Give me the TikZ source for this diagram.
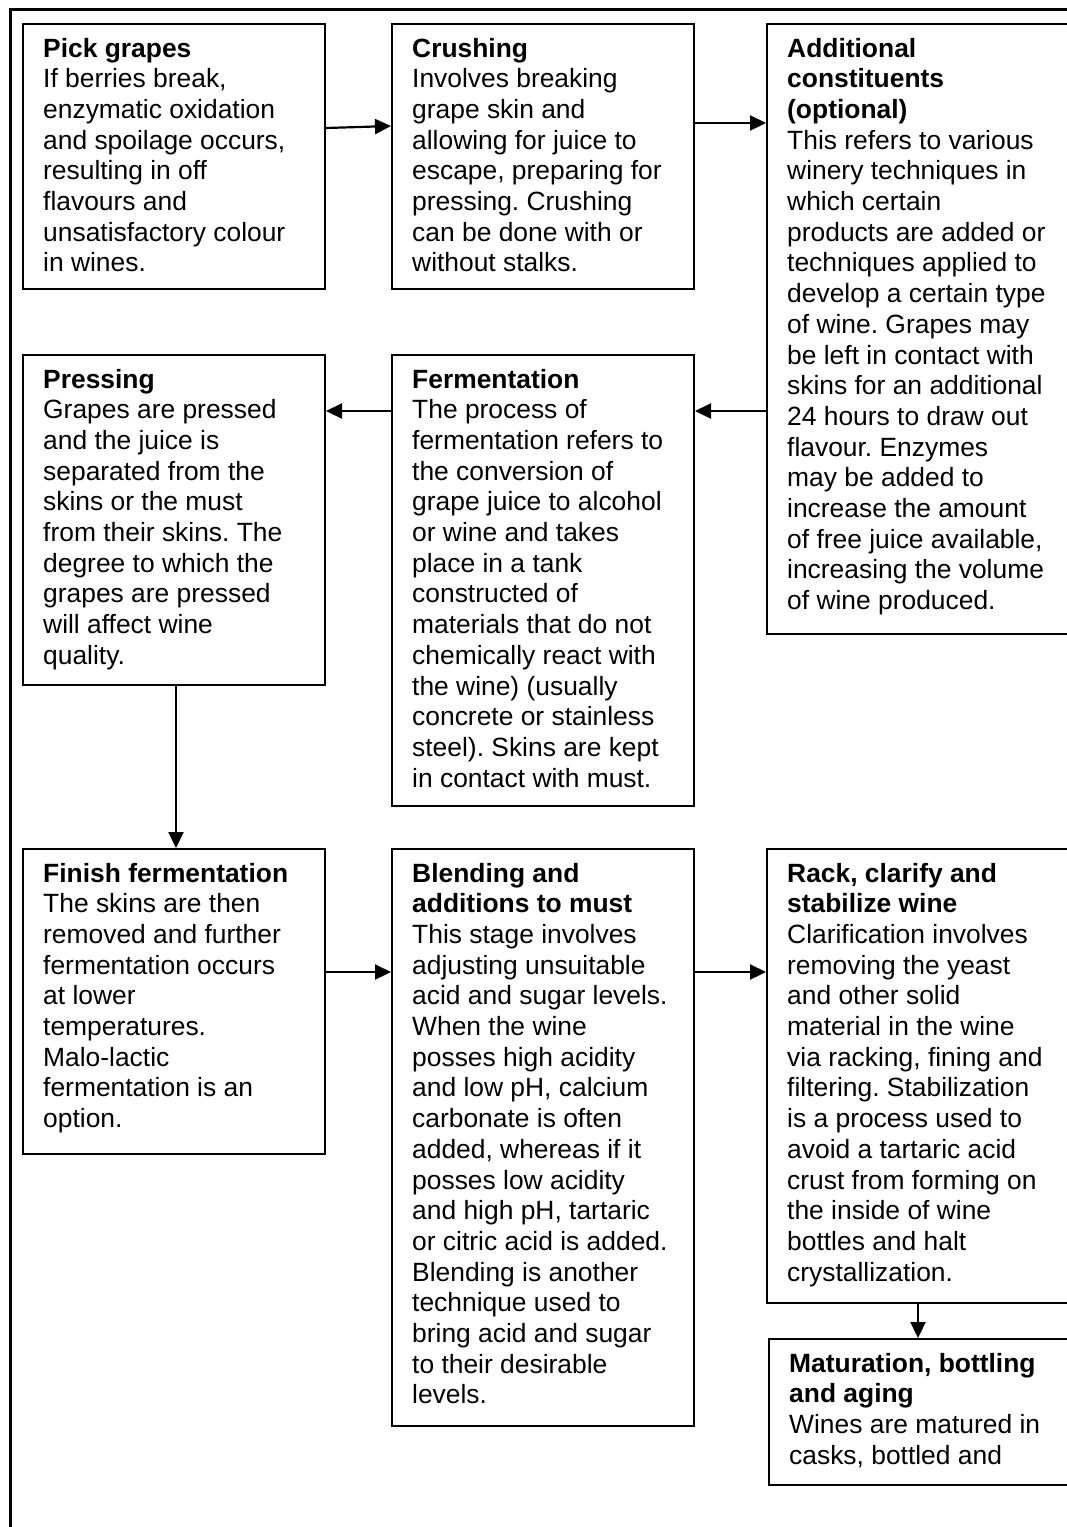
\documentclass[tikz,border=0pt]{standalone}
\usepackage{fontspec}
\setmainfont{Liberation Sans}
\usetikzlibrary{arrows.meta}
% body text of a stage: bold heading, then the description, lines broken by hand
\newcommand{\stagetxt}[2]{\parbox[t]{300pt}{\fontsize{26.4}{30.7}\selectfont\frenchspacing\raggedright{\bfseries #1}\\#2}}
\begin{document}
\begin{tikzpicture}[x=1pt,y=-1pt,
  stagebox/.style={draw, line width=2pt, inner sep=0pt, anchor=north west, minimum width=302pt},
  stagetext/.style={anchor=base west, inner sep=0pt},
  flow/.style={line width=2.2pt, -{Triangle[length=16pt,width=15pt]}},
]
\useasboundingbox (0,0) rectangle (1067,1527);
\clip (0,0) rectangle (1067,1527);
\fill[white] (0,0) rectangle (1067,1527);

% outer page frame
\draw[line width=3pt] (10,1540) -- (10,9) -- (1080,9);

% stage boxes
\node[stagebox, minimum height=265pt] (b1) at (22,23) {};
\node[stagebox, minimum height=265pt] (b2) at (391,23) {};
\node[stagebox, minimum height=610pt] (b3) at (766,23) {};
\node[stagebox, minimum height=330pt] (b4) at (22,354) {};
\node[stagebox, minimum height=451pt] (b5) at (391,354) {};
\node[stagebox, minimum height=305pt] (b6) at (22,848) {};
\node[stagebox, minimum height=577pt] (b7) at (391,848) {};
\node[stagebox, minimum height=454pt] (b8) at (766,848) {};
\node[stagebox, minimum height=146pt] (b9) at (768,1338) {};

% stage texts
\node[stagetext] (t1) at ([xshift=21pt,yshift=-34pt]b1.north west) {\stagetxt{Pick grapes}{If berries break,\\enzymatic oxidation\\and spoilage occurs,\\resulting in off\\flavours and\\unsatisfactory colour\\in wines.}};
\node[stagetext] (t2) at ([xshift=21pt,yshift=-34pt]b2.north west) {\stagetxt{Crushing}{Involves breaking\\grape skin and\\allowing for juice to\\escape, preparing for\\pressing. Crushing\\can be done with or\\without stalks.}};
\node[stagetext] (t3) at ([xshift=21pt,yshift=-34pt]b3.north west) {\stagetxt{Additional\\constituents\\(optional)}{This refers to various\\winery techniques in\\which certain\\products are added or\\techniques applied to\\develop a certain type\\of wine. Grapes may\\be left in contact with\\skins for an additional\\24 hours to draw out\\flavour. Enzymes\\may be added to\\increase the amount\\of free juice available,\\increasing the volume\\of wine produced.}};
\node[stagetext] (t4) at ([xshift=21pt,yshift=-34pt]b4.north west) {\stagetxt{Pressing}{Grapes are pressed\\and the juice is\\separated from the\\skins or the must\\from their skins. The\\degree to which the\\grapes are pressed\\will affect wine\\quality.}};
\node[stagetext] (t5) at ([xshift=21pt,yshift=-34pt]b5.north west) {\stagetxt{Fermentation}{The process of\\fermentation refers to\\the conversion of\\grape juice to alcohol\\or wine and takes\\place in a tank\\constructed of\\materials that do not\\chemically react with\\the wine) (usually\\concrete or stainless\\steel). Skins are kept\\in contact with must.}};
\node[stagetext] (t6) at ([xshift=21pt,yshift=-34pt]b6.north west) {\stagetxt{Finish fermentation}{The skins are then\\removed and further\\fermentation occurs\\at lower\\temperatures.\\Malo-lactic\\fermentation is an\\option.}};
\node[stagetext] (t7) at ([xshift=21pt,yshift=-34pt]b7.north west) {\stagetxt{Blending and\\additions to must}{This stage involves\\adjusting unsuitable\\acid and sugar levels.\\When the wine\\posses high acidity\\and low pH, calcium\\carbonate is often\\added, whereas if it\\posses low acidity\\and high pH, tartaric\\or citric acid is added.\\Blending is another\\technique used to\\bring acid and sugar\\to their desirable\\levels.}};
\node[stagetext] (t8) at ([xshift=21pt,yshift=-34pt]b8.north west) {\stagetxt{Rack, clarify and\\stabilize wine}{Clarification involves\\removing the yeast\\and other solid\\material in the wine\\via racking, fining and\\filtering. Stabilization\\is a process used to\\avoid a tartaric acid\\crust from forming on\\the inside of wine\\bottles and halt\\crystallization.}};
\node[stagetext] (t9) at ([xshift=21pt,yshift=-34pt]b9.north west) {\stagetxt{Maturation, bottling\\and aging}{Wines are matured in\\casks, bottled and}};

% process flow
\draw[flow] ([yshift=-105pt]b1.north east) -- ([yshift=-103pt]b2.north west);
\draw[flow] ([yshift=-100pt]b2.north east) -- ([yshift=-100pt]b3.north west);
\draw[flow] ([yshift=-388pt]b3.north west) -- ([yshift=-57pt]b5.north east);
\draw[flow] ([yshift=-57pt]b5.north west) -- ([yshift=-57pt]b4.north east);
\draw[flow] ([xshift=154pt]b4.south west) -- ([xshift=154pt]b6.north west);
\draw[flow] ([yshift=-124pt]b6.north east) -- ([yshift=-124pt]b7.north west);
\draw[flow] ([yshift=-124pt]b7.north east) -- ([yshift=-124pt]b8.north west);
\draw[flow] ([xshift=152pt]b8.south west) -- ([xshift=150pt]b9.north west);
\end{tikzpicture}
\end{document}
